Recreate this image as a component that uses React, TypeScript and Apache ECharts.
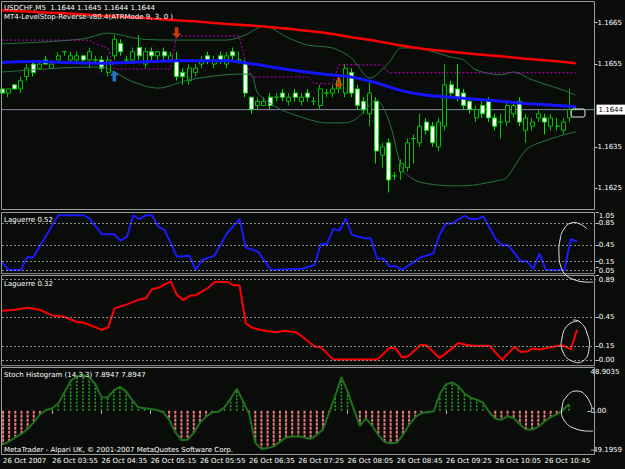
import React, { useEffect, useRef } from 'react';
import * as echarts from 'echarts';

const FONT = 'DejaVu Sans';
const BG = '#0a0c0a';

// ---- axis / labels ----
const N_SLOTS = 96; // 93 bars + chart shift
const CATEGORIES = Array.from({ length: N_SLOTS }, (_, i) => String(i));
const TICK_LABELS = [
  '26 Oct 2007', '26 Oct 03:55', '26 Oct 04:35', '26 Oct 05:15', '26 Oct 05:55', '26 Oct 06:35',
  '26 Oct 07:25', '26 Oct 08:05', '26 Oct 08:45', '26 Oct 09:25', '26 Oct 10:05', '26 Oct 10:45',
];
const PRICE_TICKS = [1.1625, 1.1635, 1.1655, 1.1665];
const CURRENT_PRICE = 1.1644;

// ---- candles (USDCHF M5) ----
const OPEN = [
  1.1649, 1.1648, 1.1650, 1.1649, 1.1652, 1.1655, 1.1654, 1.1656, 1.1654, 1.1656,
  1.1658, 1.1656, 1.1656, 1.1657, 1.1656, 1.1656, 1.1656, 1.1653, 1.1657, 1.1660,
  1.1656, 1.1656, 1.1659, 1.1655, 1.1658, 1.1657, 1.1658, 1.1656, 1.1656, 1.1653,
  1.1651, 1.1653, 1.1655, 1.1657, 1.1655, 1.1657, 1.1655, 1.1658, 1.1656, 1.1655,
  1.1647, 1.1645, 1.1645, 1.1647, 1.1647, 1.1648, 1.1646, 1.1648, 1.1646, 1.1648,
  1.1646, 1.1645, 1.1648, 1.1648, 1.1649, 1.1648, 1.1653, 1.1649, 1.1646, 1.1643,
  1.1646, 1.1633, 1.1636, 1.1628, 1.1629, 1.1630, 1.1637, 1.1636, 1.1641, 1.1640,
  1.1635, 1.1640, 1.1650, 1.1649, 1.1648, 1.1646, 1.1642, 1.1645, 1.1646, 1.1642,
  1.1641, 1.1641, 1.1643, 1.1646, 1.1639, 1.1640, 1.1642, 1.1642, 1.1640, 1.1640,
  1.1639, 1.1642, 1.1644,
];
const CLOSE = [
  1.1648, 1.1649, 1.1649, 1.1651, 1.1654, 1.1653, 1.1655, 1.1655, 1.1655, 1.1657,
  1.1658, 1.1657, 1.1657, 1.1656, 1.1658, 1.1656, 1.1654, 1.1656, 1.1661, 1.1658,
  1.1656, 1.1658, 1.1657, 1.1658, 1.1657, 1.1658, 1.1657, 1.1657, 1.1652, 1.1652,
  1.1654, 1.1654, 1.1656, 1.1656, 1.1656, 1.1656, 1.1657, 1.1657, 1.1656, 1.1648,
  1.1644, 1.1646, 1.1646, 1.1645, 1.1647, 1.1647, 1.1647, 1.1647, 1.1647, 1.1647,
  1.1646, 1.1649, 1.1648, 1.1649, 1.1651, 1.1654, 1.1648, 1.1645, 1.1644, 1.1648,
  1.1634, 1.1635, 1.1627, 1.1628, 1.1631, 1.1636, 1.1637, 1.1640, 1.1639, 1.1636,
  1.1641, 1.1650, 1.1648, 1.1647, 1.1645, 1.1644, 1.1644, 1.1643, 1.1642, 1.1640,
  1.1641, 1.1645, 1.1645, 1.1641, 1.1642, 1.1641, 1.1643, 1.1641, 1.1642, 1.1640,
  1.1641, 1.1644, 1.1644,
];
const LOW = [
  1.1647, 1.1647, 1.1649, 1.1648, 1.1651, 1.1652, 1.1654, 1.1655, 1.1654, 1.1656,
  1.1657, 1.1655, 1.1655, 1.1655, 1.1654, 1.1655, 1.1653, 1.1652, 1.1656, 1.1657,
  1.1655, 1.1655, 1.1656, 1.1654, 1.1656, 1.1656, 1.1656, 1.1656, 1.1651, 1.1650,
  1.1650, 1.1652, 1.1654, 1.1655, 1.1654, 1.1655, 1.1654, 1.1656, 1.1655, 1.1647,
  1.1643, 1.1644, 1.1645, 1.1644, 1.1646, 1.1646, 1.1645, 1.1646, 1.1645, 1.1646,
  1.1645, 1.1644, 1.1647, 1.1647, 1.1648, 1.1647, 1.1647, 1.1644, 1.1643, 1.1640,
  1.1631, 1.1630, 1.1624, 1.1627, 1.1627, 1.1629, 1.1631, 1.1635, 1.1638, 1.1635,
  1.1634, 1.1639, 1.1647, 1.1646, 1.1644, 1.1643, 1.1641, 1.1642, 1.1641, 1.1639,
  1.1637, 1.1640, 1.1642, 1.1640, 1.1636, 1.1639, 1.1641, 1.1638, 1.1639, 1.1639,
  1.1638, 1.1641, 1.1644,
];
const HIGH = [
  1.1650, 1.1649, 1.1650, 1.1652, 1.1655, 1.1656, 1.1656, 1.1657, 1.1656, 1.1658,
  1.1658, 1.1658, 1.1658, 1.1657, 1.1659, 1.1657, 1.1657, 1.1657, 1.1662, 1.1661,
  1.1657, 1.1659, 1.1662, 1.1659, 1.1659, 1.1658, 1.1659, 1.1658, 1.1658, 1.1654,
  1.1655, 1.1655, 1.1657, 1.1658, 1.1657, 1.1658, 1.1658, 1.1659, 1.1658, 1.1656,
  1.1647, 1.1647, 1.1647, 1.1648, 1.1648, 1.1649, 1.1648, 1.1649, 1.1648, 1.1649,
  1.1647, 1.1650, 1.1649, 1.1650, 1.1652, 1.1655, 1.1654, 1.1650, 1.1647, 1.1651,
  1.1647, 1.1636, 1.1637, 1.1629, 1.1632, 1.1637, 1.1638, 1.1643, 1.1642, 1.1641,
  1.1642, 1.1655, 1.1651, 1.1655, 1.1649, 1.1647, 1.1645, 1.1646, 1.1647, 1.1643,
  1.1643, 1.1646, 1.1646, 1.1647, 1.1643, 1.1642, 1.1644, 1.1643, 1.1643, 1.1642,
  1.1642, 1.1649, 1.1645,
];

// ---- main-pane indicators, read as [bar, price] ----
const RED_MA = [
  [0, 1.1668], [4, 1.16677], [8, 1.16674], [12, 1.16671], [16, 1.16667], [20, 1.16664],
  [24, 1.1666], [28, 1.16656], [32, 1.16652], [36, 1.16647], [40, 1.16643], [44, 1.16638],
  [48, 1.16632], [52, 1.16625], [56, 1.16615], [60, 1.16606], [64, 1.16595], [68, 1.16586],
  [72, 1.1658], [76, 1.16574], [80, 1.16569], [84, 1.16563], [88, 1.16558], [92, 1.16552],
];
const BLUE_MA = [
  [0, 1.16554], [4, 1.16556], [8, 1.16555], [12, 1.16553], [16, 1.16552], [20, 1.16554],
  [24, 1.16556], [28, 1.16558], [32, 1.16558], [36, 1.16558], [40, 1.16551], [44, 1.16541],
  [48, 1.16532], [52, 1.16525], [56, 1.16519], [60, 1.16505], [64, 1.16486], [68, 1.16475],
  [72, 1.1647], [76, 1.16465], [80, 1.1646], [84, 1.16455], [88, 1.16451], [92, 1.16447],
];
const BB_UPPER = [
  [0, 1.16599], [6, 1.16603], [13, 1.16611], [17, 1.16625], [22, 1.16611], [28, 1.16608],
  [36, 1.16608], [39, 1.1662], [42, 1.16642], [46, 1.16613], [49, 1.16596], [53, 1.16589],
  [56, 1.16565], [59, 1.16516], [62, 1.16553], [64, 1.16589], [66, 1.16589], [72, 1.16567],
  [74, 1.1656], [76, 1.16536], [80, 1.16524], [82, 1.16531], [85, 1.16512], [90, 1.16487],
  [92, 1.16475],
];
const BB_LOWER = [
  [0, 1.16531], [5, 1.16536], [10, 1.16541], [16, 1.16543], [18, 1.16531], [21, 1.16507],
  [25, 1.16492], [30, 1.16512], [38, 1.16526], [40, 1.16524], [41, 1.1648], [44, 1.16446],
  [47, 1.16427], [52, 1.16408], [55, 1.16408], [57, 1.1642], [60, 1.16463], [62, 1.16415],
  [64, 1.16302], [65, 1.16282], [67, 1.16265], [72, 1.16256], [74, 1.16256], [80, 1.1627],
  [81, 1.16277], [84, 1.16343], [86, 1.16359], [90, 1.16379], [92, 1.16386],
];
const LEVEL_STOP = [
  [0, 1.16608], [14, 1.16608], [15, 1.16599], [17, 1.16589], [18, 1.16538], [27, 1.16538],
  [28, 1.16618], [38, 1.16618], [39, 1.1656], [40, 1.16519], [49, 1.16519], [50, 1.16504],
  [53, 1.16502], [54, 1.16548], [61, 1.16548], [62, 1.16529], [92, 1.16529],
];
const UP_ARROWS = [[18, 1.16521]];
const DOWN_ARROWS = [[28, 1.16626], [54, 1.16504]];

// ---- Laguerre 0.52 ----
const LAG1 = [
  [0, 0.14], [1, 0], [3, 0], [4, 0.23], [5, 0.23], [9, 1], [13, 1], [14, 0.94], [16, 0.65],
  [18, 0.65], [19, 0.53], [20, 0.61], [21, 1], [22, 0.93], [23, 1], [24, 1], [25, 0.79],
  [26, 0.73], [28, 0.24], [30, 0.26], [31, 0], [32, 0.18], [34, 0.26], [36, 0.67], [38, 0.93],
  [39, 0.41], [41, 0.33], [43, 0], [48, 0.02], [50, 0.09], [51, 0.47], [52, 0.47], [53, 0.75],
  [54, 0.72], [55, 0.94], [56, 0.64], [58, 0.58], [59, 0.58], [60, 0.21], [61, 0.21],
  [62, 0.06], [63, 0.07], [64, 0], [67, 0.23], [69, 0.3], [70, 0.64], [71, 0.85], [72, 0.85],
  [74, 0.99], [75, 0.93], [76, 0.93], [77, 0.98], [79, 0.56], [80, 0.45], [81, 0.45],
  [83, 0.16], [84, 0.16], [85, 0.02], [86, 0.3], [87, 0], [90, 0], [91, 0.56], [92, 0.52],
];
const LAG1_LEVELS = [0.85, 0.45, 0.15, 0];
const LAG1_TICKS = [0.85, 0.45, 0.15];
const LAG1_EDGE_TICKS = [1.05, 0.05];

// ---- Laguerre 0.32 ----
const LAG2 = [
  [0, 0.52], [2, 0.53], [4, 0.55], [5, 0.54], [6, 0.53], [8, 0.47], [10, 0.455], [12, 0.4],
  [13, 0.395], [16, 0.317], [17, 0.345], [18, 0.544], [20, 0.586], [22, 0.638], [23, 0.648],
  [24, 0.746], [25, 0.76], [27, 0.829], [28, 0.683], [29, 0.631], [30, 0.676], [31, 0.683],
  [33, 0.76], [34, 0.822], [36, 0.822], [37, 0.788], [38, 0.788], [39, 0.387], [40, 0.341],
  [42, 0.307], [44, 0.293], [45, 0.307], [47, 0.293], [48, 0.247], [50, 0.143], [51, 0.136],
  [53, 0.004], [60, 0.004], [62, 0.126], [63, 0.12], [64, 0.028], [65, 0.04], [67, 0.161],
  [68, 0.15], [70, 0.022], [71, 0.07], [73, 0.178], [75, 0.15], [78, 0.15], [80, 0.004],
  [81, 0.07], [82, 0.14], [83, 0.084], [84, 0.09], [85, 0.12], [86, 0.11], [88, 0.136],
  [89, 0.15], [90, 0.15], [91, 0.11], [92, 0.32],
];
const LAG2_LEVELS = [0.85, 0.45, 0.15, 0];
const LAG2_TICKS = [0.89, 0.45, 0.15, 0];

// ---- Stoch histogram (14,3,3) ----
const STOCH = [
  -38, -34.5, -30, -26, -20.5, -13, -4, 1, 3, 8.5,
  21, 34, 39, 40.4, 38, 30, 15.5, 15, 23, 27,
  22, 12, 4, 3, 2, 1, -1.5, -10, -24, -33,
  -32.5, -25, -13.5, -6.5, -1.5, -0.9, 4, 14, 25, 11,
  -3, -36, -43, -42, -40, -35, -30, -29, -29, -30,
  -31.5, -27, -21, -2, 17, 38, 22, 2, -17, -8.4,
  -17, -27, -35, -36.5, -36, -27, -16, -7, -2.5, -1.5,
  -0.5, 19, 30, 32, 28, 19.5, 15, 12.5, 9.5, -1,
  -8.6, -10.3, -6, -8, -15, -21, -21, -18, -12, -7,
  -4, 1, 7.9,
];
const STOCH_MAX = 48.9035;
const STOCH_MIN = -49.1959;

const TXT = { color: '#ffffff', fontSize: 7, fontFamily: FONT };
const RICH = {
  t: { ...TXT, padding: [9, 0, 0, 0] },
  b: { ...TXT, padding: [0, 0, 9, 0] },
};

export default function App() {
  const ref = useRef<HTMLDivElement>(null);

  useEffect(() => {
    if (!ref.current) return;
    const chart = echarts.init(ref.current, null, { renderer: 'svg' });

    const gridRight = 625 - 595.75;
    const grids = [
      { left: 2, right: gridRight, top: 2, height: 207 },
      { left: 2, right: gridRight, top: 212.5, height: 61.2 },
      { left: 2, right: gridRight, top: 275.5, height: 90.2 },
      { left: 2, right: gridRight, top: 367.5, height: 87 },
    ];

    const tickInterval = (idx: number) => idx % 8 === 0 && idx / 8 < TICK_LABELS.length;
    const xAxes = grids.map((_, k) => ({
      type: 'category',
      gridIndex: k,
      data: CATEGORIES,
      boundaryGap: false,
      axisLine: { show: false },
      splitLine: { show: false },
      axisTick: k === 3
        ? { show: true, interval: tickInterval, length: 3, lineStyle: { color: '#c8c8c8' } }
        : { show: false },
      axisLabel: k === 3
        ? {
            ...TXT,
            interval: tickInterval,
            align: 'left',
            margin: 3,
            hideOverlap: false,
            formatter: (_v: string, idx: number) => TICK_LABELS[idx / 8] ?? '',
          }
        : { show: false },
    }));

    const yBase = {
      position: 'right',
      axisLine: { show: false },
      splitLine: { show: false },
    };
    const lbl = { ...TXT, margin: 3, hideOverlap: false, showMinLabel: true, showMaxLabel: true };
    const tick = (values: number[]) => ({ show: true, customValues: values, length: 3, lineStyle: { color: '#c8c8c8' } });
    const topFmt = (top: number, digits: number) => (v: number) =>
      Math.abs(v - top) < 1e-9 ? '{t|' + v.toFixed(digits) + '}' : v.toFixed(digits);

    const yAxes = [
      {
        ...yBase, gridIndex: 0, min: 1.162, max: 1.167,
        axisTick: tick(PRICE_TICKS),
        axisLabel: { ...lbl, customValues: PRICE_TICKS, formatter: (v: number) => v.toFixed(4) },
      },
      {
        ...yBase, gridIndex: 1, min: -0.07, max: 1.05,
        axisTick: tick(LAG1_TICKS),
        axisLabel: { ...lbl, customValues: LAG1_TICKS, formatter: (v: number) => v.toFixed(2) },
      },
      {
        ...yBase, gridIndex: 2, min: -0.06, max: 0.89,
        axisTick: tick(LAG2_TICKS),
        axisLabel: { ...lbl, customValues: LAG2_TICKS, formatter: topFmt(0.89, 2), rich: RICH },
      },
      {
        ...yBase, gridIndex: 3, min: STOCH_MIN, max: STOCH_MAX,
        axisTick: tick([STOCH_MAX, 0, STOCH_MIN]),
        axisLabel: {
          ...lbl, customValues: [STOCH_MAX, 0, STOCH_MIN], rich: RICH,
          formatter: (v: number) => {
            if (Math.abs(v - STOCH_MAX) < 1e-9) return '{t|' + STOCH_MAX.toFixed(4) + '}';
            if (Math.abs(v - STOCH_MIN) < 1e-9) return '{b|' + STOCH_MIN.toFixed(4) + '}';
            return v.toFixed(2);
          },
        },
      },
      {
        ...yBase, gridIndex: 1, min: -0.07, max: 1.05,
        axisTick: tick(LAG1_EDGE_TICKS),
        axisLabel: {
          ...lbl, customValues: LAG1_EDGE_TICKS, verticalAlign: 'top', lineHeight: 7,
          formatter: (v: number) => v.toFixed(2),
        },
      },
    ];

    const levelLines = (levels: number[]) => ({
      silent: true,
      symbol: ['none', 'none'],
      animation: false,
      label: { show: false },
      lineStyle: { color: '#8c8c8c', type: [2, 2], width: 1 },
      data: levels.map((v) => ({ yAxis: v })),
    });

    const candleData = OPEN.map((o, i) => [o, CLOSE[i], LOW[i], HIGH[i]]);

    const series: any[] = [
      {
        type: 'line', xAxisIndex: 0, yAxisIndex: 0,
        data: [[0, CURRENT_PRICE], [N_SLOTS - 1, CURRENT_PRICE]],
        showSymbol: false, silent: true, z: 1,
        lineStyle: { color: '#8a8aa8', width: 1 },
        endLabel: {
          show: true, distance: 2,
          formatter: CURRENT_PRICE.toFixed(4),
          color: '#000000', backgroundColor: '#ffffff', padding: [2, 2, 1, 2],
          fontSize: 7, fontFamily: FONT,
        },
      },
      {
        type: 'candlestick',
        xAxisIndex: 0, yAxisIndex: 0,
        data: candleData,
        barWidth: 4.5,
        z: 2,
        itemStyle: {
          color: BG, color0: '#ffffff',
          borderColor: '#00c000', borderColor0: '#00e800', borderColorDoji: '#00c800',
          borderWidth: 1,
        },
      },
      {
        type: 'line', xAxisIndex: 0, yAxisIndex: 0, data: BB_UPPER, showSymbol: false, smooth: 0.3,
        lineStyle: { color: '#27763e', width: 1 }, z: 3,
      },
      {
        type: 'line', xAxisIndex: 0, yAxisIndex: 0, data: BB_LOWER, showSymbol: false, smooth: 0.3,
        lineStyle: { color: '#27763e', width: 1 }, z: 3,
      },
      {
        type: 'line', xAxisIndex: 0, yAxisIndex: 0, data: LEVEL_STOP, showSymbol: false,
        lineStyle: { color: '#c000c0', width: 1, type: [2, 2] }, z: 3,
      },
      {
        type: 'line', xAxisIndex: 0, yAxisIndex: 0, data: RED_MA, showSymbol: false, smooth: 0.3,
        lineStyle: { color: '#ff0000', width: 2.5 }, z: 4,
      },
      {
        type: 'line', xAxisIndex: 0, yAxisIndex: 0, data: BLUE_MA, showSymbol: false, smooth: 0.3,
        lineStyle: { color: '#1414ff', width: 3 }, z: 4,
      },
      {
        type: 'scatter', xAxisIndex: 0, yAxisIndex: 0, data: UP_ARROWS,
        symbol: 'path://M5 0 L10 5 L7 5 L7 11 L3 11 L3 5 L0 5 Z', symbolSize: [9, 11],
        itemStyle: { color: '#2a8cff' }, z: 5, silent: true,
      },
      {
        type: 'scatter', xAxisIndex: 0, yAxisIndex: 0, data: DOWN_ARROWS,
        symbol: 'path://M3 0 L7 0 L7 6 L10 6 L5 11 L0 6 L3 6 Z', symbolSize: [9, 11],
        itemStyle: { color: '#ff4500' }, z: 5, silent: true,
      },
      {
        type: 'line', xAxisIndex: 1, yAxisIndex: 1, data: LAG1, showSymbol: false,
        lineStyle: { color: '#1a1aff', width: 2 }, z: 3,
        markLine: levelLines(LAG1_LEVELS),
      },
      {
        type: 'line', xAxisIndex: 2, yAxisIndex: 2, data: LAG2, showSymbol: false,
        lineStyle: { color: '#ff0000', width: 2 }, z: 3,
        markLine: levelLines(LAG2_LEVELS),
      },
      {
        type: 'custom', xAxisIndex: 3, yAxisIndex: 3,
        data: STOCH.map((v, i) => [i, v]),
        encode: { x: 0, y: 1 },
        z: 2,
        renderItem: (_params: any, api: any) => {
          const i = api.value(0);
          const v = api.value(1);
          const a = api.coord([i, 0]);
          const b = api.coord([i, v]);
          const pos = v >= 0;
          return {
            type: 'line',
            shape: { x1: a[0], y1: a[1], x2: b[0], y2: b[1] },
            style: {
              stroke: pos ? '#22a822' : '#f47878',
              lineWidth: pos ? 1.5 : 2,
              lineDash: pos ? [2, 1.5] : [3, 1],
            },
          };
        },
      },
      {
        type: 'line', xAxisIndex: 3, yAxisIndex: 3, data: STOCH.map((v, i) => [i, v]), showSymbol: false,
        lineStyle: { color: '#1f701f', width: 2 }, z: 3,
      },
    ];

    const border = (y0: number, y1: number) => ({
      type: 'rect', z: 100, silent: true,
      shape: { x: 1.5, y: y0, width: 593, height: y1 - y0 },
      style: { fill: 'none', stroke: '#9c9c9c', lineWidth: 1 },
    });
    const label = (x: number, y: number, text: string) => ({
      type: 'text', x, y, z: 101, silent: true,
      style: { text, fill: '#ffffff', fontSize: 7, fontFamily: FONT, verticalAlign: 'middle' },
    });
    const loop = (points: number[][]) => ({
      type: 'polyline', z: 102, silent: true,
      shape: { points, smooth: 0.5 },
      style: { fill: 'none', stroke: '#e4e4e4', lineWidth: 1 },
    });

    const graphic = [
      border(1.5, 209.5),
      border(212.5, 273.7),
      border(275.5, 365.7),
      border(367.5, 454.5),
      label(4, 7.5, 'USDCHF,M5  1.1644 1.1645 1.1644 1.1644'),
      label(4, 17, 'MT4-LevelStop-Reverse-v80.4(ATRMode 9, 3, 0 )'),
      label(4, 220, 'Laguerre 0.52'),
      label(4, 283.5, 'Laguerre 0.32'),
      label(4, 375, 'Stoch Histogram (14,3,3) 7.8947 7.8947'),
      label(4, 449.5, 'MetaTrader - Alpari UK, \u00a9 2001-2007 MetaQuotes Software Corp.'),
      {
        type: 'rect', z: 102, silent: true,
        shape: { x: 571, y: 109, width: 14, height: 8, r: 2 },
        style: { fill: 'none', stroke: '#e4e4e4', lineWidth: 1 },
      },
      loop([[587, 229], [580, 224], [571, 223], [564, 229], [560, 240], [559, 255], [561, 267], [566, 275], [575, 280], [585, 282], [593, 282]]),
      loop([[578, 321], [568, 325], [562, 338], [563, 352], [572, 361], [583, 361], [589, 349], [587, 333], [580, 322], [573, 320]]),
      loop([[592, 408], [586, 396], [577, 391], [567, 396], [562, 408], [564, 420], [576, 429], [593, 431]]),
    ];

    chart.setOption({
      animation: false,
      backgroundColor: BG,
      grid: grids,
      xAxis: xAxes,
      yAxis: yAxes,
      series,
      graphic,
    });

    return () => chart.dispose();
  }, []);

  return (
    <div
      ref={ref}
      style={{ position: 'fixed', left: 0, top: 0, width: 625, height: 469 }}
    />
  );
}
